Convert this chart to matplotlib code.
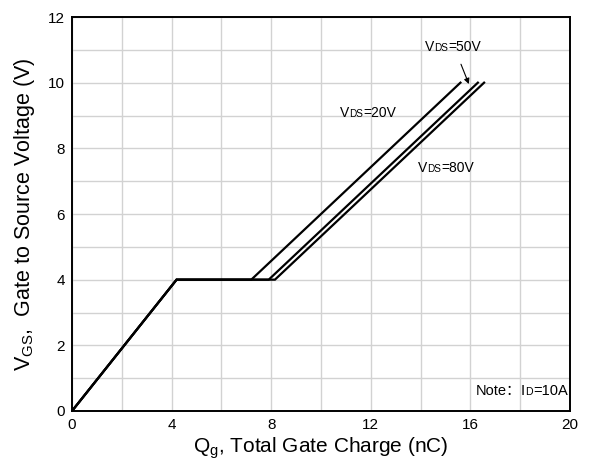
import numpy as np
import matplotlib.pyplot as plt
from matplotlib.offsetbox import TextArea, HPacker, AnnotationBbox

plt.rcParams['font.family'] = ['Liberation Sans', 'DejaVu Sans']

# gate charge curves (Qg in nC, Vgs in V)
qg_20 = [0, 4.2, 7.2, 15.6]
vgs_20 = [0, 4.0, 4.0, 10.0]
qg_50 = [0, 4.2, 7.9, 16.3]
vgs_50 = [0, 4.0, 4.0, 10.0]
qg_80 = [0, 4.2, 8.15, 16.55]
vgs_80 = [0, 4.0, 4.0, 10.0]

x_ticks = [0, 4, 8, 12, 16, 20]
y_ticks = [0, 2, 4, 6, 8, 10, 12]


def small_sub(ax, x, y, parts, size, ha=0.0):
    # parts: list of (text, is_small) drawn on one baseline
    kids = []
    for t, small in parts:
        fs = size * 0.72 if small else size
        kids.append(TextArea(t, textprops=dict(fontsize=fs, family=["Liberation Sans", "Noto Sans CJK SC"])))
    box = HPacker(children=kids, align="baseline", pad=0, sep=0)
    ab = AnnotationBbox(box, (x, y), frameon=False, box_alignment=(ha, 0.5), pad=0)
    ax.add_artist(ab)


def main():
    fig = plt.figure(figsize=(5.89, 4.74), dpi=100)
    ax = fig.add_axes([72 / 589, 1 - 411 / 474, 498 / 589, 394 / 474])

    for q, v in [(qg_20, vgs_20), (qg_50, vgs_50), (qg_80, vgs_80)]:
        ax.plot(q, v, color="black", lw=1.6, solid_joinstyle="miter")

    ax.set_xlim(0, 20)
    ax.set_ylim(0, 12)
    ax.set_xticks(x_ticks)
    ax.set_yticks(y_ticks)
    ax.set_xticks(np.arange(0, 21, 2), minor=True)
    ax.set_yticks(np.arange(0, 13, 1), minor=True)
    ax.grid(which="both", color="#d2d2d2", lw=1.0)
    ax.set_axisbelow(True)
    ax.tick_params(which="both", length=0, labelsize=11, pad=5)
    for s in ax.spines.values():
        s.set_linewidth(1.4)

    ax.set_xlabel("Q$_\\mathregular{g}$, Total Gate Charge (nC)", fontsize=15, labelpad=2)
    ax.set_ylabel("V$_\\mathregular{GS}$,  Gate to Source Voltage (V)", fontsize=15.5, labelpad=8)

    small_sub(ax, 10.76, 9.09, [("V", False), ("DS", True), ("=20V", False)], 10)
    small_sub(ax, 13.9, 7.41, [("V", False), ("DS", True), ("=80V", False)], 10)
    small_sub(ax, 14.18, 11.1, [("V", False), ("DS", True), ("=50V", False)], 10)
    ax.annotate("", xy=(15.98, 9.88), xytext=(15.58, 10.64),
                arrowprops=dict(arrowstyle="-|>", color="black", lw=0.8,
                                mutation_scale=8))
    small_sub(ax, 19.9, 0.62, [("Note：", False), ("I", False), ("D", True), ("=10A", False)], 10.5, ha=1.0)

    fig.savefig("out.png", dpi=100)


if __name__ == "__main__":
    main()
